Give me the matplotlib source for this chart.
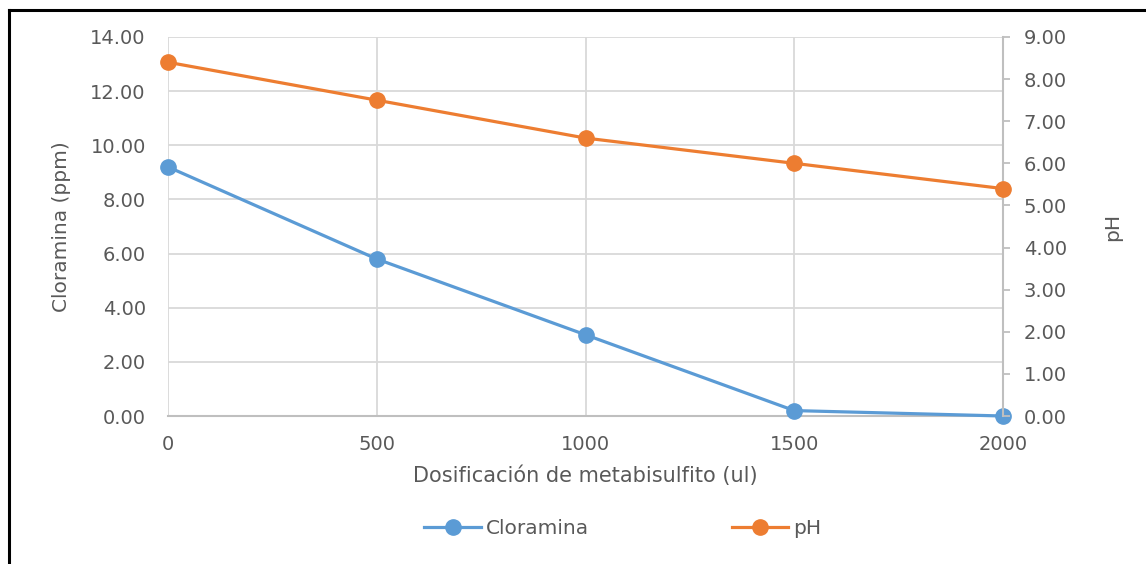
import matplotlib
matplotlib.use("Agg")
import matplotlib.pyplot as plt
from matplotlib.lines import Line2D

dosis = [0, 500, 1000, 1500, 2000]
cloramina = [9.20, 5.80, 3.00, 0.20, 0.00]
ph = [8.40, 7.50, 6.60, 6.00, 5.40]

azul = "#5B9BD5"
naranja = "#ED7D31"
gris_texto = "#595959"
gris_rejilla = "#D9D9D9"
gris_eje = "#BFBFBF"

plt.rcParams["font.family"] = ["DejaVu Sans"]

W, H = 1146, 564
fig = plt.figure(figsize=(W / 100, H / 100), dpi=100)
ax = fig.add_axes([168 / W, 1 - 416 / H, (1003 - 168) / W, (416 - 37) / H])
ax2 = ax.twinx()

ax.plot(dosis, cloramina, color=azul, lw=2.3, marker="o", ms=11, label="Cloramina",
        clip_on=False, zorder=3)
ax2.plot(dosis, ph, color=naranja, lw=2.3, marker="o", ms=11, label="pH",
         clip_on=False, zorder=3)

ax.set_xlim(0, 2000)
ax.set_ylim(0, 14)
ax2.set_ylim(0, 9)
ax.set_xticks(dosis)
ax.set_yticks([0, 2, 4, 6, 8, 10, 12, 14])
ax2.set_yticks(range(10))
ax.yaxis.set_major_formatter(matplotlib.ticker.FormatStrFormatter("%.2f"))
ax2.yaxis.set_major_formatter(matplotlib.ticker.FormatStrFormatter("%.2f"))

ax.grid(True, color=gris_rejilla, lw=1.3)
ax.set_axisbelow(True)
for s in ["top", "left"]:
    ax.spines[s].set_visible(False)
    ax2.spines[s].set_visible(False)
ax.spines["right"].set_visible(False)
ax.spines["bottom"].set_color(gris_eje)
ax.spines["bottom"].set_linewidth(1.5)
ax2.spines["bottom"].set_visible(False)
ax2.spines["right"].set_color(gris_eje)
ax2.spines["right"].set_linewidth(1.5)

fs = 14
ax.tick_params(axis="y", length=0, pad=16, labelsize=fs, labelcolor=gris_texto)
ax.tick_params(axis="x", length=0, pad=14, labelsize=fs, labelcolor=gris_texto)
ax2.tick_params(axis="y", length=5, width=1.3, color=gris_eje, pad=10, labelsize=fs,
                labelcolor=gris_texto)

ax.set_xlabel("Dosificación de metabisulfito (ul)", fontsize=15, color=gris_texto, labelpad=8)
ax.set_ylabel("Cloramina (ppm)", fontsize=14.5, color=gris_texto, labelpad=14)
ax2.set_ylabel("pH", fontsize=14.5, color=gris_texto, labelpad=26)

h1, l1 = ax.get_legend_handles_labels()
h2, l2 = ax2.get_legend_handles_labels()
fig.legend(h1 + h2, l1 + l2, loc="center", bbox_to_anchor=(623 / W, 1 - 529 / H),
           ncol=2, frameon=False, fontsize=14.5, labelcolor=gris_texto,
           handlelength=2.8, columnspacing=7.1, handletextpad=0.25)

# Marco del gráfico: borde izquierdo y superior
fig.add_artist(Line2D([9 / W, 9 / W], [0, 1 - 10 / H], transform=fig.transFigure,
                      color="black", lw=2.2))
fig.add_artist(Line2D([9 / W, 1], [1 - 10 / H, 1 - 10 / H], transform=fig.transFigure,
                      color="black", lw=2.2))

fig.savefig("out.png", dpi=100)
